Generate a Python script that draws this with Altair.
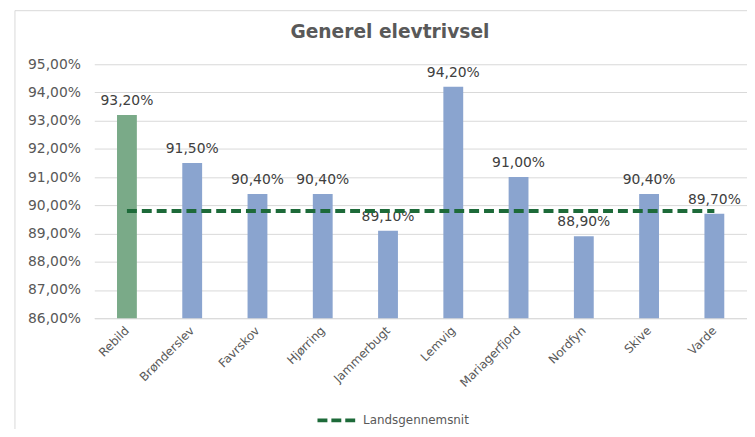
import altair as alt
import pandas as pd

kommuner = ["Rebild", "Brønderslev", "Favrskov", "Hjørring", "Jammerbugt",
            "Lemvig", "Mariagerfjord", "Nordfyn", "Skive", "Varde"]
trivsel = [93.2, 91.5, 90.4, 90.4, 89.1, 94.2, 91.0, 88.9, 90.4, 89.7]
gruppe = ["Rebild"] + ["Andre"] * 9
landsgennemsnit = 89.8
y_min, y_max = 86, 95

df = pd.DataFrame({
    "kommune": kommuner,
    "trivsel": trivsel,
    "gruppe": gruppe,
    "label": [f"{v:.2f}%".replace(".", ",") for v in trivsel],
    "lands": [landsgennemsnit] * len(kommuner),
    "serie": ["Landsgennemsnit"] * len(kommuner),
})

FONT = "DejaVu Sans"

yaxis = alt.Axis(values=list(range(y_min, y_max + 1)), tickCount=20,
                 labelExpr="replace(format(datum.value, '.2f'), '.', ',') + '%'",
                 labelFontSize=14, labelColor="#595959", labelFont=FONT,
                 labelOverlap=False, labelBound=False, labelFlush=False,
                 ticks=False, domain=False, gridColor="#D9D9D9", labelPadding=14)
yscale = alt.Scale(domain=[y_min, y_max], zero=False, nice=False)
xaxis = alt.Axis(labelAngle=-45, labelAlign="right", labelBaseline="middle",
                 labelFontSize=12, labelColor="#595959", labelFont=FONT,
                 ticks=False, domainColor="#D9D9D9", labelPadding=10)

base = alt.Chart(df)

bars = base.mark_bar(size=20).encode(
    x=alt.X("kommune:N", sort=kommuner, title=None, axis=xaxis),
    y=alt.Y("trivsel:Q", scale=yscale, title=None, axis=yaxis),
    y2=alt.datum(y_min),
    color=alt.Color("gruppe:N", scale=alt.Scale(domain=["Rebild", "Andre"],
                                                range=["#7AAA88", "#8AA4CF"]),
                    legend=None),
)

labels = base.mark_text(baseline="middle", dy=-14, fontSize=14, font=FONT,
                        color="#404040").encode(
    x=alt.X("kommune:N", sort=kommuner, title=None, axis=xaxis),
    y=alt.Y("trivsel:Q", scale=yscale, title=None, axis=yaxis),
    text="label:N",
)

line = base.mark_line(strokeDash=[10, 5], strokeWidth=4).encode(
    x=alt.X("kommune:N", sort=kommuner, title=None, axis=xaxis),
    y=alt.Y("lands:Q", scale=yscale, title=None, axis=yaxis),
    stroke=alt.Stroke("serie:N", scale=alt.Scale(range=["#1D6A39"]), title=None,
                      legend=alt.Legend(orient="none", legendX=223, legendY=337,
                                        symbolType="stroke", symbolDash=[10, 4],
                                        symbolStrokeWidth=4, symbolSize=1600,
                                        labelFontSize=12, labelColor="#595959",
                                        labelFont=FONT, padding=0)),
)

border_top = alt.Chart(pd.DataFrame({"a": [0]})).mark_rule(color="#D9D9D9", strokeWidth=1).encode(
    x=alt.value(-80), x2=alt.value(700), y=alt.value(-54))
border_left = alt.Chart(pd.DataFrame({"a": [0]})).mark_rule(color="#D9D9D9", strokeWidth=1).encode(
    x=alt.value(-80), y=alt.value(-54), y2=alt.value(400))

chart = alt.layer(border_top, border_left, bars, labels, line).properties(
    width=658, height=256,
    title=alt.Title("Generel elevtrivsel", fontSize=18.8, font=FONT, fontWeight="bold",
                    color="#595959", offset=-32, dx=-31, frame="group"),
    autosize=alt.AutoSizeParams(type="none"),
    padding={"left": 87, "top": 55, "right": 0, "bottom": 110},
).configure_view(stroke=None).configure_scale(bandPaddingInner=0.69)

chart.save("out.html", embed_options={"renderer": "svg", "actions": False})
